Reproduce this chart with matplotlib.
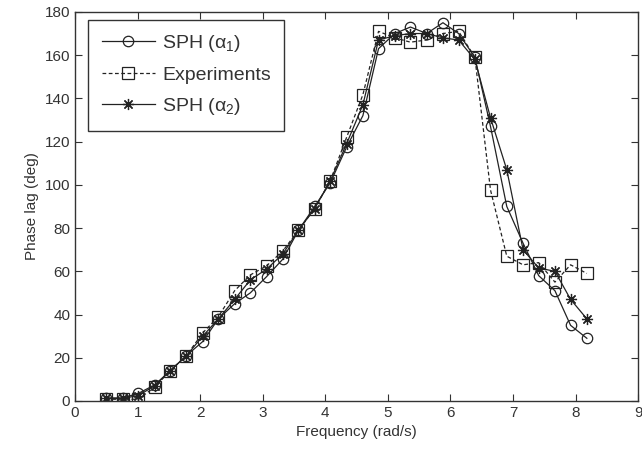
import matplotlib
matplotlib.use("Agg")
import matplotlib.pyplot as plt

plt.rcParams['font.family'] = ['Liberation Sans', 'DejaVu Sans']
plt.rcParams['mathtext.fontset'] = 'custom'
plt.rcParams['mathtext.rm'] = 'Liberation Sans'
plt.rcParams['mathtext.it'] = 'Liberation Sans:italic'

# frequency (rad/s)
freq = [0.50, 0.76, 1.01, 1.27, 1.52, 1.78, 2.04, 2.29, 2.55, 2.80, 3.06,
        3.32, 3.57, 3.83, 4.08, 4.34, 4.60, 4.85, 5.11, 5.36, 5.62, 5.88,
        6.13, 6.39, 6.64, 6.90, 7.16, 7.41, 7.67, 7.92, 8.18]

# phase lag (deg)
sph_a1 = [1.4, 1.4, 3.5, 7.4, 14, 21, 27.5, 38, 45, 50, 57.5,
          65.6, 79, 90, 101, 117.5, 132, 163, 170, 173, 170, 175,
          170, 159, 127, 90, 73, 58, 51, 35, 29]
experiments = [0.8, 0.8, 0.8, 6.4, 14, 21, 31.5, 39, 51, 58.3, 62.5,
               69.4, 79, 89, 102, 122, 141.7, 171, 168, 166, 167, 170,
               171, 159, 97.6, 67, 63, 64, 55, 63, 59]
sph_a2 = [1.2, 1.2, 2.5, 7, 14, 21, 30, 38, 47, 56, 61,
          68, 79, 89, 102, 119, 137, 167, 169, 170, 170, 168,
          167, 158, 131, 107, 70, 61.5, 60, 47, 38]

c = '#222222'
fig = plt.figure(figsize=(6.42, 4.58), dpi=100)
ax = fig.add_axes([0.117, 0.1245, 0.877, 0.8495])

ax.plot(freq, sph_a1, '-', color=c, lw=0.9, marker='o', ms=7.5,
        mfc='none', mec=c, mew=0.9, label=r'SPH ($\mathrm{\alpha}_1$)')
ax.plot(freq, experiments, '--', color=c, lw=0.9, marker='s', ms=8,
        mfc='none', mec=c, mew=0.9, dashes=(3, 2), label='Experiments')
ax.plot(freq, sph_a2, '-', color=c, lw=0.9, marker=(8, 2, 0), ms=8,
        mec=c, mew=0.9, label=r'SPH ($\mathrm{\alpha}_2$)')

ax.set_xlim(0, 9)
ax.set_ylim(0, 180)
ax.set_xticks(range(0, 10))
ax.set_yticks(range(0, 181, 20))
ax.tick_params(direction='in', top=True, right=True, length=5,
               labelsize=11, colors='#333333')
for s in ax.spines.values():
    s.set_color('#333333')
    s.set_linewidth(1.0)

ax.set_xlabel('Frequency (rad/s)', fontsize=11, color='#333333')
ax.set_ylabel('Phase lag (deg)', fontsize=11, color='#333333')

leg = ax.legend(loc='upper left', fontsize=14, handlelength=2.75,
                fancybox=False, framealpha=1, edgecolor='#333333',
                borderpad=0.7, labelspacing=0.62, handletextpad=0.35,
                borderaxespad=0.0, bbox_to_anchor=(0.023, 0.98))
leg.get_frame().set_linewidth(1.0)
for t in leg.get_texts():
    t.set_color('#333333')

fig.savefig('out.png', dpi=100)
